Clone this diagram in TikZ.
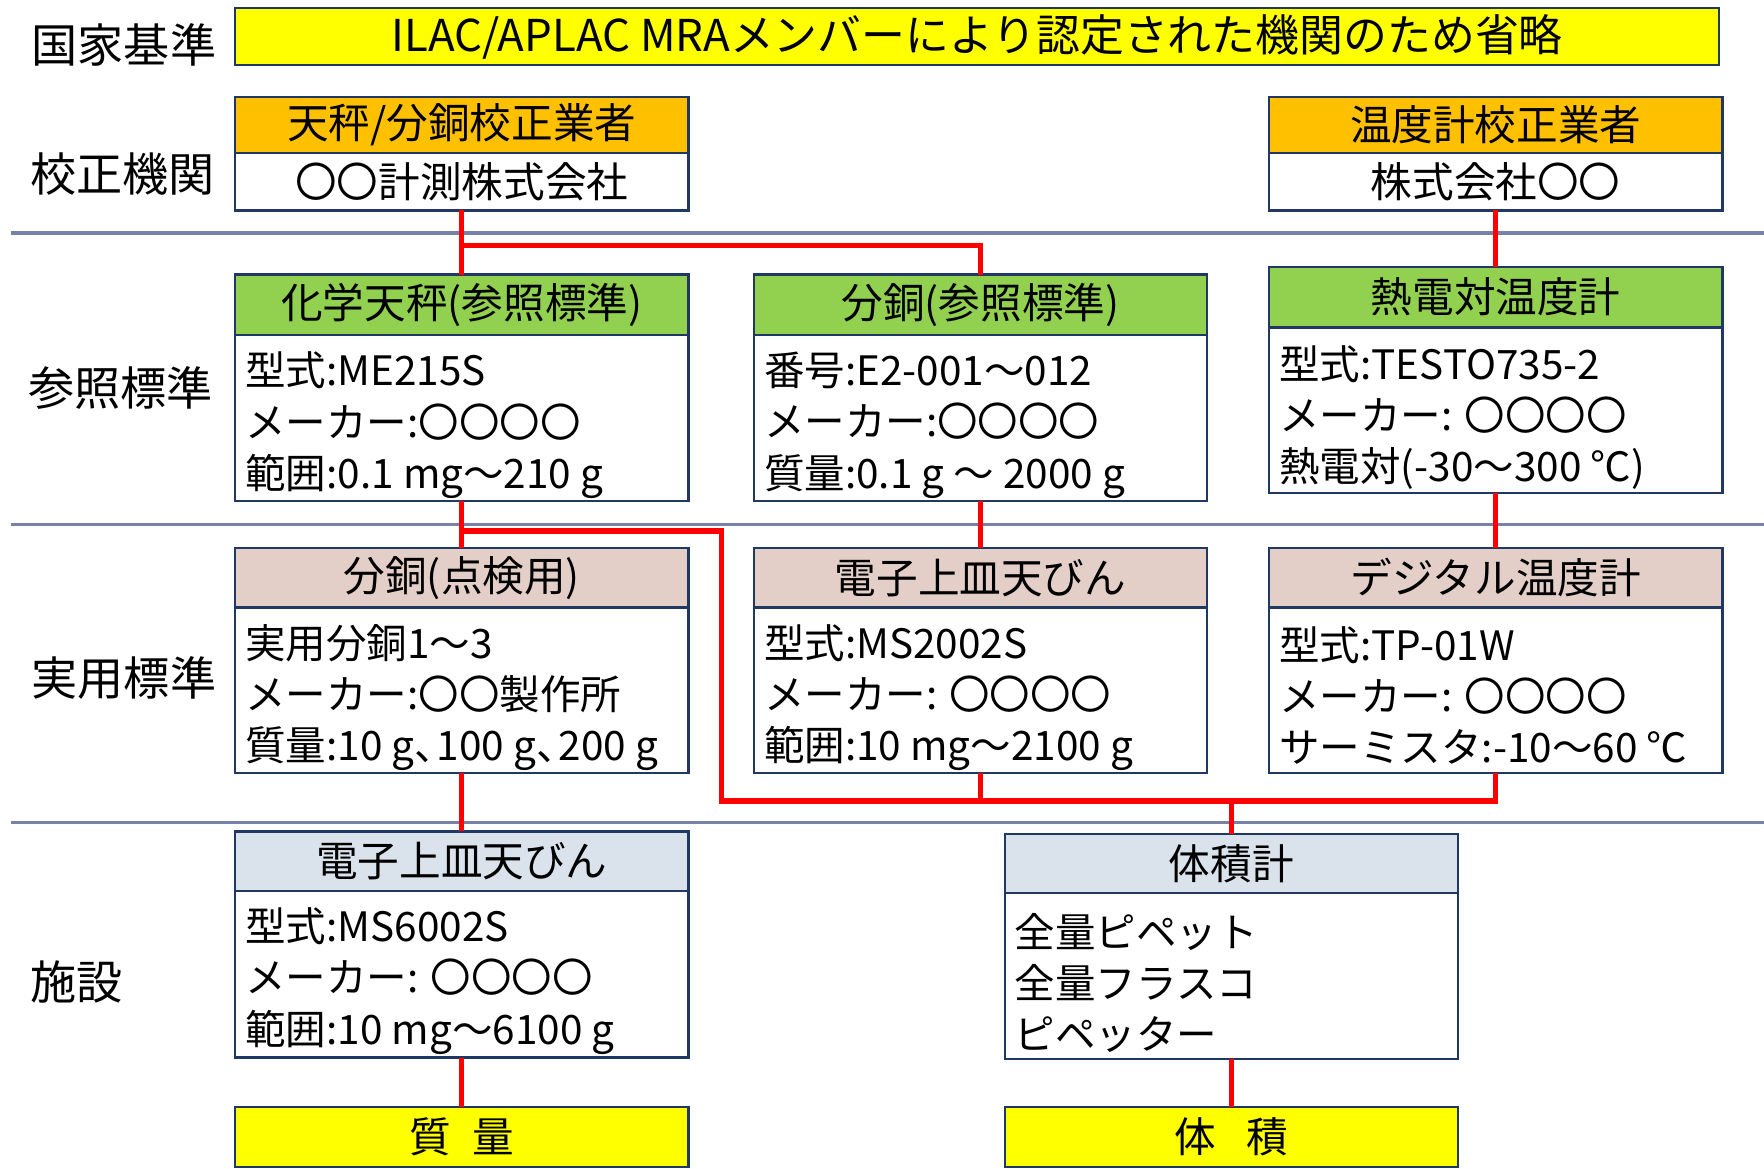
\documentclass[tikz,border=0pt]{standalone}
\usepackage{fontspec}
\setmainfont{Noto Sans CJK JP}
\definecolor{navy}{HTML}{1F3864}
\definecolor{yel}{HTML}{FFFF00}
\definecolor{orng}{HTML}{FFC000}
\definecolor{grn}{HTML}{92D050}
\definecolor{pnk}{HTML}{E3CFC7}
\definecolor{lblue}{HTML}{DAE2EB}
\definecolor{graysep}{HTML}{7682A8}
\definecolor{redline}{HTML}{FF0000}
\tikzset{
  box/.style={draw=navy, line width=2pt, rectangle, inner sep=0pt, outer sep=0pt, minimum width=403pt},
  hdr/.style={box, font=\fontsize{37}{44}\selectfont},
  bodybox/.style={box, fill=white},
  bodytxt/.style={anchor=west, align=left, inner sep=0pt, font=\fontsize{36}{45.5}\selectfont},
  rowlabel/.style={anchor=west, inner sep=0pt, font=\fontsize{41}{48}\selectfont},
  link/.style={draw=redline, line width=4.5pt},
  sepline/.style={draw=graysep, line width=3pt},
}
\begin{document}
\begin{tikzpicture}[x=1pt,y=-1pt]
\useasboundingbox (0,0) rectangle (1568,1039);

% separator lines
\coordinate (s1a) at (10,207); \coordinate (s1b) at (1568,207);
\coordinate (s2a) at (10,466); \coordinate (s2b) at (1568,466);
\coordinate (s3a) at (10,731); \coordinate (s3b) at (1568,731);
\draw[sepline] (s1a) -- (s1b);
\draw[sepline] (s2a) -- (s2b);
\draw[sepline] (s3a) -- (s3b);

% row labels
\node[rowlabel] (l1) at (28,40) {国家基準};
\node[rowlabel] (l2) at (27,155) {校正機関};
\node[rowlabel] (l3) at (25,345) {参照標準};
\node[rowlabel] (l4) at (28,603) {実用標準};
\node[rowlabel] (l5) at (27,873) {施設};

% national standard banner
\node[box, fill=yel, minimum width=1319pt, minimum height=51pt, font=\fontsize{39}{46}\selectfont] (nat) at (868.5,32.5) {ILAC/APLAC MRAメンバーにより認定された機関のため省略};

% calibration bodies
\node[hdr, fill=orng, minimum height=50pt] (cah) at (410.5,111) {天秤/分銅校正業者};
\node[bodybox, minimum height=51pt, anchor=north, font=\fontsize{37}{44}\selectfont] (cab) at (cah.south) {〇〇計測株式会社};
\node[hdr, fill=orng, minimum height=50pt] (cbh) at (1329.5,111) {温度計校正業者};
\node[bodybox, minimum height=51pt, anchor=north, font=\fontsize{37}{44}\selectfont] (cbb) at (cbh.south) {株式会社〇〇};

% reference standards
\node[hdr, fill=grn, minimum height=54pt] (r1h) at (410.5,271) {化学天秤(参照標準)};
\node[bodybox, minimum height=147pt, anchor=north] (r1b) at (r1h.south) {};
\node[bodytxt] (r1t) at (218,378) {型式:ME215S\\メーカー:〇〇〇〇\\範囲:0.1 mg〜210 g};

\node[hdr, fill=grn, minimum height=54pt] (r2h) at (871.5,271) {分銅(参照標準)};
\node[bodybox, minimum height=147pt, anchor=north] (r2b) at (r2h.south) {};
\node[bodytxt] (r2t) at (679,378) {番号:E2-001〜012\\メーカー:〇〇〇〇\\質量:0.1 g 〜 2000 g};

\node[hdr, fill=grn, minimum height=54pt] (r3h) at (1329.5,264) {熱電対温度計};
\node[bodybox, minimum height=147pt, anchor=north] (r3b) at (r3h.south) {};
\node[bodytxt] (r3t) at (1137,371) {型式:TESTO735-2\\メーカー: 〇〇〇〇\\熱電対(-30〜300 ℃)};

% practical standards
\node[hdr, fill=pnk, minimum height=53pt] (p1h) at (410.5,513.5) {分銅(点検用)};
\node[bodybox, minimum height=147pt, anchor=north] (p1b) at (p1h.south) {};
\node[bodytxt] (p1t) at (218,620) {実用分銅1〜3\\メーカー:〇〇製作所\\質量:10 g、\kern-0.45em 100 g、\kern-0.45em 200 g};

\node[hdr, fill=pnk, minimum height=53pt] (p2h) at (871.5,513.5) {電子上皿天びん};
\node[bodybox, minimum height=147pt, anchor=north] (p2b) at (p2h.south) {};
\node[bodytxt] (p2t) at (679,620) {型式:MS2002S\\メーカー: 〇〇〇〇\\範囲:10 mg〜2100 g};

\node[hdr, fill=pnk, minimum height=53pt] (p3h) at (1329.5,513.5) {デジタル温度計};
\node[bodybox, minimum height=147pt, anchor=north] (p3b) at (p3h.south) {};
\node[bodytxt] (p3t) at (1137,618) {型式:TP-01W\\メーカー: 〇〇〇〇\\サーミスタ:-10〜60 ℃};

% facility
\node[hdr, fill=lblue, minimum height=53pt] (f1h) at (410.5,765.5) {電子上皿天びん};
\node[bodybox, minimum height=148pt, anchor=north] (f1b) at (f1h.south) {};
\node[bodytxt] (f1t) at (218,872) {型式:MS6002S\\メーカー: 〇〇〇〇\\範囲:10 mg〜6100 g};

\node[hdr, fill=lblue, minimum height=53pt] (f2h) at (1094.5,767.5) {体積計};
\node[bodybox, minimum height=147pt, anchor=north] (f2b) at (f2h.south) {};
\node[bodytxt] (f2t) at (902,874) {全量ピペット\\全量フラスコ\\ピペッター};

% quantities
\node[hdr, fill=yel, minimum height=53pt] (q1) at (410.5,1010.5) {質\hspace{0.5em}量};
\node[hdr, fill=yel, minimum height=53pt] (q2) at (1094.5,1010.5) {体\hspace{0.75em}積};

% red traceability links
\coordinate (j1) at (410.5,218);
\coordinate (j2) at (410.5,472);
\coordinate (j3) at (641,712);
\coordinate (j4) at (1094.5,712);
\draw[link] (cab.south) -- (r1h.north);
\draw[link] (j1) -| (r2h.north);
\draw[link] (cbb.south) -- (r3h.north);
\draw[link] (r1b.south) -- (p1h.north);
\draw[link] (j2) -| (j3) -| (p3b.south);
\draw[link] (r2b.south) -- (p2h.north);
\draw[link] (p2b.south) -- (p2b.south |- j3);
\draw[link] (r3b.south) -- (p3h.north);
\draw[link] (j4) -- (f2h.north);
\draw[link] (p1b.south) -- (f1h.north);
\draw[link] (f1b.south) -- (q1.north);
\draw[link] (f2b.south) -- (q2.north);
\end{tikzpicture}
\end{document}
